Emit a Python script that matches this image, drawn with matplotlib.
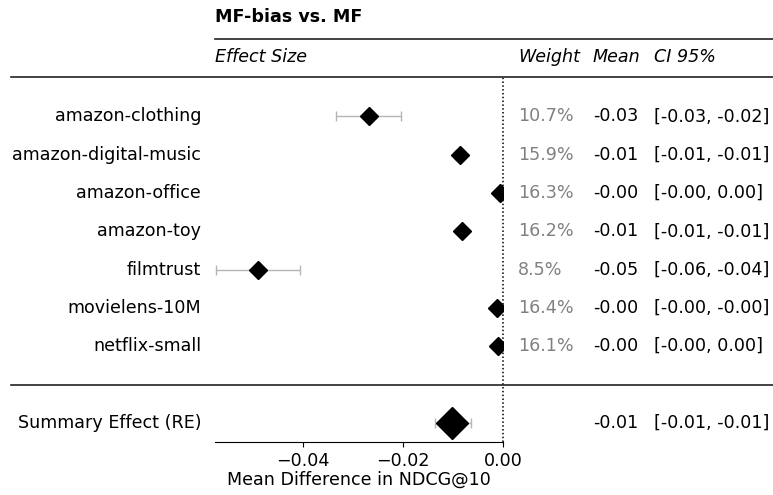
import matplotlib
matplotlib.use("Agg")
import matplotlib.pyplot as plt
from matplotlib import transforms
from matplotlib.lines import Line2D

datasets = ["amazon-clothing", "amazon-digital-music", "amazon-office", "amazon-toy",
            "filmtrust", "movielens-10M", "netflix-small"]
means = [-0.0268, -0.0086, -0.0005, -0.0081, -0.0490, -0.0011, -0.0009]
ci_low = [-0.0334, -0.0095, -0.0010, -0.0088, -0.0574, -0.0017, -0.0015]
ci_high = [-0.0204, -0.0078, 0.0000, -0.0074, -0.0405, -0.0005, 0.0003]
weights = [10.7, 15.9, 16.3, 16.2, 8.5, 16.4, 16.1]

summary_label = "Summary Effect (RE)"
summary_mean = -0.0101
summary_low = -0.0136
summary_high = -0.0064

title = "MF-bias vs. MF"
xticks = [-0.04, -0.02, 0.00]

plt.rcParams['font.family'] = ['DejaVu Sans']
plt.rcParams['font.size'] = 12.6

W, H = 773, 495
fig = plt.figure(figsize=(W / 100, H / 100), dpi=100)
ax = fig.add_axes([215 / W, 1 - 442 / H, (503 - 215) / W, (442 - 78) / H])

ys = [-i for i in range(len(datasets))]
y_sum = -8

# study rows
for y, m, lo, hi in zip(ys, means, ci_low, ci_high):
    ax.errorbar(m, y, xerr=[[m - lo], [hi - m]], fmt='none', ecolor='#b5b5b5',
                elinewidth=1, capsize=3.5, capthick=1, zorder=2)
    ax.plot(m, y, marker='D', color='black', markersize=9, linestyle='none', zorder=3)

# summary row
ax.errorbar(summary_mean, y_sum, xerr=[[summary_mean - summary_low], [summary_high - summary_mean]],
            fmt='none', ecolor='#b5b5b5', elinewidth=1, capsize=3.5, capthick=1, zorder=2)
ax.plot(summary_mean, y_sum, marker='D', color='black', markersize=16.5, linestyle='none', zorder=3)

ax.axvline(0, color='black', linestyle=(0, (1, 1.5)), linewidth=1.1, zorder=1, clip_on=False)

ax.set_xlim(-0.0575, 0.0)
ax.set_ylim(-8.5, 1.0)
ax.set_xticks(xticks)
ax.set_xticklabels([f"{t:.2f}".replace("-", "\u2212") for t in xticks])
ax.set_yticks([])
for s in ['top', 'right', 'left']:
    ax.spines[s].set_visible(False)
ax.set_xlabel("Mean Difference in NDCG@10", labelpad=1)

# table text
tr = transforms.blended_transform_factory(fig.transFigure, ax.transData)
for y, name, m, lo, hi, w in zip(ys, datasets, means, ci_low, ci_high, weights):
    ax.text(201 / W, y, name, transform=tr, ha='right', va='center')
    ax.text(518 / W, y, f"{w:.1f}%", transform=tr, ha='left', va='center', color='#808080')
    ax.text(593 / W, y, f"{m:.2f}", transform=tr, ha='left', va='center')
    ax.text(654 / W, y, f"[{lo:.2f}, {hi:.2f}]", transform=tr, ha='left', va='center')

ax.text(201 / W, y_sum, summary_label, transform=tr, ha='right', va='center')
ax.text(593 / W, y_sum, f"{summary_mean:.2f}", transform=tr, ha='left', va='center')
ax.text(654 / W, y_sum, f"[{summary_low:.2f}, {summary_high:.2f}]", transform=tr, ha='left', va='center')

# header
fig.text(215 / W, 1 - 17 / H, title, ha='left', va='center', fontweight='bold')
fig.text(215 / W, 1 - 57 / H, "Effect Size", ha='left', va='center', style='italic')
fig.text(518 / W, 1 - 57 / H, "Weight", ha='left', va='center', style='italic')
fig.text(593 / W, 1 - 57 / H, "Mean", ha='left', va='center', style='italic')
fig.text(654 / W, 1 - 57 / H, "CI 95%", ha='left', va='center', style='italic')

fig.add_artist(Line2D([215 / W, 1], [1 - 39 / H, 1 - 39 / H], color='#222222', lw=1.2,
                      transform=fig.transFigure))
fig.add_artist(Line2D([11 / W, 1], [1 - 77 / H, 1 - 77 / H], color='#222222', lw=1.2,
                      transform=fig.transFigure))
ax.add_artist(Line2D([11 / W, 1], [-7, -7], color='#222222', lw=1.2, transform=tr, clip_on=False))

fig.savefig("out.png", dpi=100)
